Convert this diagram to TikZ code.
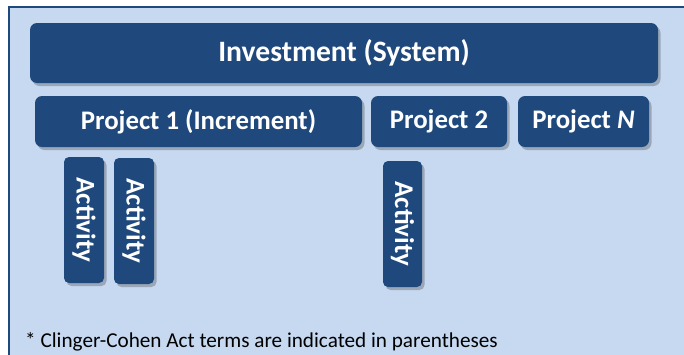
\documentclass[tikz,border=0pt]{standalone}
\usepackage{fontspec}
\setmainfont{Carlito}
\usetikzlibrary{shadows}
\definecolor{boxblue}{HTML}{1F497D}
\definecolor{panelblue}{HTML}{C6D9F1}
\tikzset{
  box/.style={draw=none, fill=boxblue, rounded corners=7pt, text=white,
    font=\bfseries\fontsize{26.8}{28}\selectfont, inner sep=0pt,
    drop shadow={shadow xshift=2.5pt, shadow yshift=-3pt, opacity=0.35, fill=black!70}},
  actbox/.style={box, rounded corners=5pt, font=\bfseries\fontsize{27}{28}\selectfont},
  note/.style={font=\fontsize{21.2}{23}\selectfont, text=black, inner sep=0pt, anchor=base west}
}
\begin{document}
\begin{tikzpicture}[x=1pt,y=-1pt]
\useasboundingbox (0,0) rectangle (684,354);
\clip (0,0) rectangle (684,354);
\fill[white] (0,0) rectangle (684,354);
\draw[draw=boxblue, fill=panelblue, line width=2pt] (9,7) rectangle (700,370);
\node[box, minimum width=628pt, minimum height=60pt, font=\bfseries\fontsize{29.6}{31}\selectfont] (inv) at (344,53) {Investment (System)};
\node[box, minimum width=327pt, minimum height=51pt] (p1) at (198.5,121.5) {Project 1 (Increment)};
\node[box, minimum width=136pt, minimum height=51pt] (p2) at (439,121.5) {Project 2};
\node[box, minimum width=131pt, minimum height=51pt] (pn) at (583.5,121.5) {Project \textit{N}};
\node[actbox, minimum width=126pt, minimum height=40pt, rotate=-90] (a1) at (84,220) {Activity};
\node[actbox, minimum width=126pt, minimum height=40pt, rotate=-90] (a2) at (134,221) {Activity};
\node[actbox, minimum width=126pt, minimum height=39pt, rotate=-90] (a3) at (402.5,224) {Activity};
\node[note] (fn) at (25,347) {* Clinger-Cohen Act terms are indicated in parentheses};
\end{tikzpicture}
\end{document}
